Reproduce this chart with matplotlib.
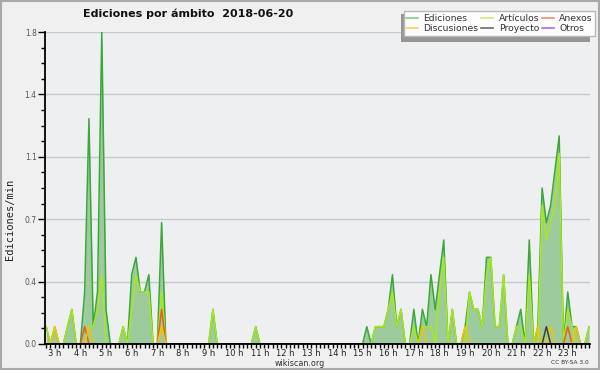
import numpy as np
import matplotlib.pyplot as plt
from matplotlib.patches import Rectangle

# intervalos de 10 min, desde las 02:40 hasta las 23:50
hora_inicio = 2 + 40 / 60
paso = 10 / 60

ediciones = [
    0.1, 0.0,                          # 2 h
    0.1, 0.0, 0.0, 0.1, 0.2, 0.0,      # 3 h
    0.0, 0.3, 1.3, 0.1, 0.3, 1.8,      # 4 h
    0.2, 0.0, 0.0, 0.0, 0.1, 0.0,      # 5 h
    0.4, 0.5, 0.3, 0.3, 0.4, 0.0,      # 6 h
    0.0, 0.7, 0.0, 0.0, 0.0, 0.0,      # 7 h
    0.0, 0.0, 0.0, 0.0, 0.0, 0.0,      # 8 h
    0.0, 0.2, 0.0, 0.0, 0.0, 0.0,      # 9 h
    0.0, 0.0, 0.0, 0.0, 0.0, 0.1,      # 10 h
    0.0, 0.0, 0.0, 0.0, 0.0, 0.0,      # 11 h
    0.0, 0.0, 0.0, 0.0, 0.0, 0.0,      # 12 h
    0.0, 0.0, 0.0, 0.0, 0.0, 0.0,      # 13 h
    0.0, 0.0, 0.0, 0.0, 0.0, 0.0,      # 14 h
    0.0, 0.1, 0.0, 0.1, 0.1, 0.1,      # 15 h
    0.2, 0.4, 0.1, 0.2, 0.0, 0.0,      # 16 h
    0.2, 0.0, 0.2, 0.1, 0.4, 0.2,      # 17 h
    0.4, 0.6, 0.0, 0.2, 0.0, 0.0,      # 18 h
    0.1, 0.3, 0.2, 0.2, 0.1, 0.5,      # 19 h
    0.5, 0.1, 0.1, 0.4, 0.0, 0.0,      # 20 h
    0.1, 0.2, 0.0, 0.6, 0.0, 0.1,      # 21 h
    0.9, 0.7, 0.8, 1.0, 1.2, 0.0,      # 22 h
    0.3, 0.1, 0.1, 0.0, 0.0, 0.1,      # 23 h
]

articulos = [
    0.1, 0.0,
    0.1, 0.0, 0.0, 0.1, 0.2, 0.0,
    0.0, 0.0, 0.1, 0.1, 0.2, 0.4,
    0.0, 0.0, 0.0, 0.0, 0.1, 0.0,
    0.2, 0.4, 0.3, 0.3, 0.3, 0.0,
    0.0, 0.3, 0.0, 0.0, 0.0, 0.0,
    0.0, 0.0, 0.0, 0.0, 0.0, 0.0,
    0.0, 0.2, 0.0, 0.0, 0.0, 0.0,
    0.0, 0.0, 0.0, 0.0, 0.0, 0.1,
    0.0, 0.0, 0.0, 0.0, 0.0, 0.0,
    0.0, 0.0, 0.0, 0.0, 0.0, 0.0,
    0.0, 0.0, 0.0, 0.0, 0.0, 0.0,
    0.0, 0.0, 0.0, 0.0, 0.0, 0.0,
    0.0, 0.0, 0.0, 0.1, 0.1, 0.1,
    0.2, 0.3, 0.1, 0.2, 0.0, 0.0,
    0.1, 0.0, 0.1, 0.1, 0.1, 0.0,
    0.3, 0.5, 0.0, 0.2, 0.0, 0.0,
    0.0, 0.3, 0.2, 0.2, 0.1, 0.4,
    0.5, 0.1, 0.1, 0.4, 0.0, 0.0,
    0.1, 0.1, 0.0, 0.4, 0.0, 0.0,
    0.8, 0.6, 0.7, 0.8, 1.1, 0.0,
    0.2, 0.1, 0.0, 0.0, 0.0, 0.1,
]

anexos = [
    0.0, 0.0,
    0.0, 0.0, 0.0, 0.0, 0.0, 0.0,
    0.0, 0.1, 0.0, 0.0, 0.0, 0.0,
    0.0, 0.0, 0.0, 0.0, 0.0, 0.0,
    0.0, 0.0, 0.0, 0.0, 0.0, 0.0,
    0.0, 0.2, 0.0, 0.0, 0.0, 0.0,
] + [0.0] * 90 + [
    0.1, 0.0, 0.0, 0.0, 0.0, 0.0,
]

discusiones = [
    0.0, 0.0,
    0.1, 0.0, 0.0, 0.0, 0.0, 0.0,
    0.0, 0.0, 0.1, 0.0, 0.0, 0.0,
    0.0, 0.0, 0.0, 0.0, 0.0, 0.0,
    0.0, 0.0, 0.0, 0.0, 0.0, 0.0,
    0.0, 0.1, 0.0, 0.0, 0.0, 0.0,
    0.0, 0.0, 0.0, 0.0, 0.0, 0.0,
    0.0, 0.0, 0.0, 0.0, 0.0, 0.0,
    0.0, 0.0, 0.0, 0.0, 0.0, 0.0,
    0.0, 0.0, 0.0, 0.0, 0.0, 0.0,
    0.0, 0.0, 0.0, 0.0, 0.0, 0.0,
    0.0, 0.0, 0.0, 0.0, 0.0, 0.0,
    0.0, 0.0, 0.0, 0.0, 0.0, 0.0,
    0.0, 0.0, 0.0, 0.0, 0.0, 0.0,
    0.0, 0.0, 0.0, 0.0, 0.0, 0.0,
    0.0, 0.0, 0.1, 0.0, 0.0, 0.0,
    0.0, 0.0, 0.0, 0.0, 0.0, 0.0,
    0.1, 0.0, 0.0, 0.0, 0.0, 0.0,
    0.0, 0.0, 0.0, 0.0, 0.0, 0.0,
    0.0, 0.0, 0.0, 0.0, 0.0, 0.1,
    0.0, 0.0, 0.1, 0.0, 0.0, 0.0,
    0.0, 0.0, 0.1, 0.0, 0.0, 0.0,
]

proyecto = [0.0] * 117 + [0.1] + [0.0] * 10
otros = [0.0] * 128

series = [
    ("Ediciones", ediciones, "#3aa83a", "#88cc88"),
    ("Artículos", articulos, "#a8e81c", "#cdee7a"),
    ("Anexos", anexos, "#f05a1e", "#f0906a"),
    ("Discusiones", discusiones, "#f5c400", "#f5d35a"),
    ("Proyecto", proyecto, "#404040", "#6a6a6a"),
    ("Otros", otros, "#9040f0", "#a070f0"),
]

horas = hora_inicio + paso * np.arange(len(ediciones))

fig = plt.figure(figsize=(6, 3.7), dpi=100, facecolor="#f0f0f0")
fig.patches.append(Rectangle((0.001, 0.002), 0.997, 0.995, transform=fig.transFigure,
                             fill=False, edgecolor="#a8a8a8", linewidth=1.5))

ax = fig.add_axes([0.075, 0.0703, 0.908, 0.8432])
ax.set_facecolor("#eeeff1")

ax.fill_between(horas, ediciones, color="#9dcb9d", linewidth=0, zorder=2)
for nombre, valores, color, _ in series:
    ax.plot(horas, valores, color=color, linewidth=1.1, zorder=3)

ax.set_xlim(2.62, 23.86)
ax.set_ylim(0, 1.8)

y_ticks = [0, 0.36, 0.72, 1.08, 1.44, 1.8]
ax.set_yticks(y_ticks)
ax.set_yticklabels([f"{v:.1f}" for v in y_ticks], fontsize=5.5, color="#555555")
ax.set_yticks(np.arange(0, 1.8, 0.09), minor=True)
ax.yaxis.grid(True, color="#c8c8c8", linewidth=1.0)
ax.set_axisbelow(True)

horas_tick = list(range(3, 24))
ax.set_xticks(horas_tick)
ax.set_xticklabels([f"{h} h" for h in horas_tick], fontsize=6, color="#222222")
ax.set_xticks(np.arange(2 + 40 / 60, 23.9, 1 / 6), minor=True)

ax.tick_params(axis="x", which="major", length=3, width=1, pad=0.5)
ax.tick_params(axis="x", which="minor", length=3, width=1)
ax.tick_params(axis="y", which="major", length=5, width=1, pad=1)
ax.tick_params(axis="y", which="minor", length=3, width=1)

for lado in ["top", "right"]:
    ax.spines[lado].set_visible(False)
for lado in ["left", "bottom"]:
    ax.spines[lado].set_linewidth(1.3)
    ax.spines[lado].set_zorder(5)

fig.text(188 / 600, 1 - 14 / 370, "Ediciones por ámbito  2018-06-20",
         ha="center", va="center", fontsize=8, fontweight="bold", color="#111111")
fig.text(10 / 600, 1 - 219 / 370, "Ediciones/min", rotation=90,
         ha="center", va="center", fontsize=7.5, family="DejaVu Sans Mono", color="#222222")
fig.text(300 / 600, 1 - 363 / 370, "wikiscan.org",
         ha="center", va="center", fontsize=5.8, color="#333333")
fig.text(569.5 / 600, 1 - 363 / 370, "CC BY-SA 3.0",
         ha="center", va="center", fontsize=4.2, color="#333333")

# leyenda con sombra
fig.patches.append(Rectangle((401 / 600, 1 - 42 / 370), 189 / 600, 28 / 370,
                             transform=fig.transFigure, facecolor="#969696",
                             edgecolor="none", zorder=4))
orden = [0, 3, 1, 4, 2, 5]
handles = [plt.Line2D([], [], color=series[k][3], linewidth=1.2) for k in orden]
labels = [series[k][0] for k in orden]
leg = fig.legend(handles, labels, loc="upper left", bbox_to_anchor=(404 / 600, 1 - 11.5 / 370),
                 bbox_transform=fig.transFigure, ncol=3, fontsize=6.7, frameon=True,
                 fancybox=False, framealpha=1, facecolor="#fdfdfd", edgecolor="#b8b8b8",
                 handlelength=1.25, handletextpad=0.6, columnspacing=0.3,
                 borderpad=0.25, labelspacing=0.15, borderaxespad=0)
leg.set_zorder(6)
for t in leg.get_texts():
    t.set_color("#333333")

fig.savefig("out.png", dpi=100, facecolor=fig.get_facecolor())
